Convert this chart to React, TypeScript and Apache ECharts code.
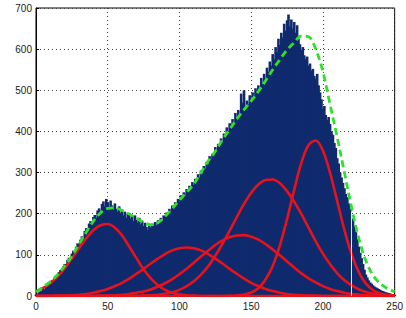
import React, { useEffect, useRef } from "react";
import * as echarts from "echarts";

// Histogram counts, one per grey level 0..250
const binCounts = [
  4, 6, 9, 11, 13, 18, 16, 22, 27, 25,
  32, 38, 35, 44, 50, 47, 58, 63, 60, 72,
  78, 74, 88, 93, 90, 103, 110, 106, 120, 128,
  124, 137, 145, 140, 158, 165, 160, 176, 182, 177,
  192, 197, 190, 208, 213, 205, 224, 230, 218, 236,
  228, 215, 232, 220, 210, 225, 212, 205, 218, 200,
  210, 196, 205, 190, 200, 202, 188, 195, 182, 196,
  185, 178, 190, 174, 183, 170, 178, 168, 160, 174,
  166, 176, 170, 180, 172, 184, 179, 190, 183, 196,
  192, 203, 198, 212, 205, 220, 213, 228, 222, 236,
  230, 245, 238, 252, 246, 260, 255, 268, 262, 277,
  270, 285, 280, 296, 288, 305, 298, 316, 310, 326,
  320, 340, 332, 346, 340, 362, 352, 370, 362, 383,
  375, 395, 386, 410, 398, 420, 408, 430, 418, 445,
  432, 452, 440, 492, 470, 500, 462, 475, 466, 488,
  478, 495, 482, 505, 496, 512, 500, 530, 515, 540,
  528, 555, 545, 570, 560, 588, 575, 605, 592, 625,
  610, 640, 628, 662, 645, 670, 684, 655, 672, 650,
  666, 640, 658, 625, 612, 598, 605, 585, 576, 582,
  560, 565, 548, 552, 535, 528, 540, 512, 495, 478,
  455, 462, 440, 428, 435, 418, 400, 392, 372, 360,
  335, 322, 300, 288, 275, 262, 248, 240, 225, 212,
  0, 188, 170, 155, 138, 120, 105, 92, 78, 64,
  52, 45, 38, 33, 30, 26, 23, 21, 19, 17,
  15, 13, 12, 10, 9, 8, 7, 6, 5, 4,
  3,
];

// Empty bin visible as a thin white gap
const emptyBin = 220;
const emptyBinNeighbourHeight = 205;

// Sample positions for the fitted curves
const curveX = [
  0, 5, 10, 15, 20, 25, 30, 35, 40, 45,
  50, 55, 60, 65, 70, 75, 80, 85, 90, 95,
  100, 105, 110, 115, 120, 125, 130, 135, 140, 145,
  150, 155, 160, 165, 170, 175, 180, 185, 190, 195,
  200, 205, 210, 215, 220, 225, 230, 235, 240, 245,
  250,
];

const comp1 = [
  11.5, 19.5, 31, 47, 67, 91, 116, 140, 160, 172,
  175, 166, 147, 120, 92, 65, 43, 26, 15, 8,
  4, 2, 1, 0, 0, 0, 0, 0, 0, 0,
  0, 0, 0, 0, 0, 0, 0, 0, 0, 0,
  0, 0, 0, 0, 0, 0, 0, 0, 0, 0,
  0,
];
const comp2 = [
  0, 0, 0, 1, 1, 2, 3, 5, 8, 12,
  17, 24, 32, 42, 54, 66, 79, 91, 102, 111,
  116, 118, 116, 111, 102, 91, 79, 66, 54, 42,
  32, 24, 17, 12, 8, 5, 3, 2, 1, 1,
  0, 0, 0, 0, 0, 0, 0, 0, 0, 0,
  0,
];
const comp3 = [
  0, 0, 0, 0, 0, 0, 0, 0, 0, 1,
  1, 2, 3, 5, 8, 11, 16, 23, 31, 41,
  53, 66, 81, 96, 110, 124, 135, 143, 147, 148,
  144, 137, 126, 113, 99, 84, 69, 55, 43, 33,
  24, 17, 12, 8, 5, 3.5, 2, 1, 1, 0,
  0,
];
const comp4 = [
  0, 0, 0, 0, 0, 0, 0, 0, 0, 0,
  0, 0, 0, 0, 0.5, 1, 2, 3, 5.5, 9,
  15, 24, 36, 52, 72, 98, 127, 159, 192, 224,
  251, 271, 282, 283, 274, 255, 229, 199, 166, 133,
  103, 77, 55, 38, 26, 16.5, 10, 6, 3.5, 2,
  1,
];
const comp5 = [
  0, 0, 0, 0, 0, 0, 0, 0, 0, 0,
  0, 0, 0, 0, 0, 0, 0, 0, 0, 0,
  0, 0, 0, 0, 0, 0, 0.1, 0.4, 1.3, 3.5,
  8.6, 19, 40, 73, 123, 187, 258, 324, 367, 378,
  353, 299, 230, 160, 101, 58, 30, 14, 6, 2.4,
  0.8,
];
const mixtureSum = [
  10, 22, 35, 52, 73, 97, 126, 155, 182, 202,
  213, 214, 208, 199, 189, 179, 173, 178, 194, 213,
  233, 252, 272, 300, 328, 352, 380, 405, 430, 453,
  474, 497, 523, 550, 575, 598, 616, 632, 630, 600,
  545, 465, 385, 300, 215, 140, 85, 50, 30, 18,
  10,
];

const xTicks = [0, 50, 100, 150, 200, 250];
const yTicks = [0, 100, 200, 300, 400, 500, 600, 700];

const NAVY = "#0f2a6d";
const RED = "#e8121a";
const GREEN = "#2ee02a";

export default function App() {
  const ref = useRef<HTMLDivElement>(null);
  useEffect(() => {
    if (!ref.current) return;
    const chart = echarts.init(ref.current, undefined, { renderer: "svg" });
    const pairs = (ys: number[]) => curveX.map((x, i) => [x, ys[i]]);
    const redSeries = [comp1, comp2, comp3, comp4, comp5].map((c, k) => ({
      type: "line",
      name: "g" + (k + 1),
      data: pairs(c),
      smooth: 0.35,
      showSymbol: false,
      symbol: "none",
      lineStyle: { color: RED, width: 2.6 },
      z: 3,
      clip: true,
    }));
    const labelStyle = {
      color: "#222",
      fontSize: 10,
      fontFamily: "Liberation Sans, Arial, sans-serif",
    };
    chart.setOption({
      animation: false,
      backgroundColor: "#ffffff",
      grid: {
        left: 36,
        right: 7,
        top: 8,
        bottom: 22,
        show: true,
        borderColor: "#000",
        borderWidth: 1,
        backgroundColor: "#fff",
      },
      xAxis: {
        type: "value",
        min: xTicks[0],
        max: xTicks[xTicks.length - 1],
        interval: 50,
        axisLine: { show: true, onZero: false, lineStyle: { color: "#000", width: 1 } },
        axisTick: { show: true, inside: true, length: 3, lineStyle: { color: "#000" } },
        axisLabel: { ...labelStyle, margin: 5 },
        splitLine: { show: true, lineStyle: { color: "#444", type: [1, 3], width: 1 } },
      },
      yAxis: {
        type: "value",
        min: yTicks[0],
        max: yTicks[yTicks.length - 1],
        interval: 100,
        axisLine: { show: true, lineStyle: { color: "#000", width: 1 } },
        axisTick: { show: true, inside: true, length: 3, lineStyle: { color: "#000" } },
        axisLabel: { ...labelStyle, margin: 4 },
        splitLine: { show: true, lineStyle: { color: "#444", type: [1, 3], width: 1 } },
      },
      series: [
        {
          type: "bar",
          name: "hist",
          data: binCounts.map((v, i) => [i, v]),
          barWidth: 2.6,
          itemStyle: { color: NAVY },
          z: 2,
          clip: true,
          markLine: {
            silent: true,
            symbol: "none",
            label: { show: false },
            lineStyle: { color: "#e8ecf4", width: 1, type: "solid" },
            data: [
              [
                { coord: [emptyBin, 0] },
                { coord: [emptyBin, emptyBinNeighbourHeight] },
              ],
            ],
          },
        },
        ...redSeries,
        {
          type: "line",
          name: "sum",
          data: pairs(mixtureSum),
          smooth: 0.35,
          showSymbol: false,
          symbol: "none",
          lineStyle: { color: GREEN, width: 2.8, type: [7, 4] },
          z: 4,
          clip: true,
        },
      ],
    });
    return () => chart.dispose();
  }, []);
  return (
    <div
      ref={ref}
      style={{ position: "fixed", left: 0, top: 0, width: 406, height: 318 }}
    />
  );
}
